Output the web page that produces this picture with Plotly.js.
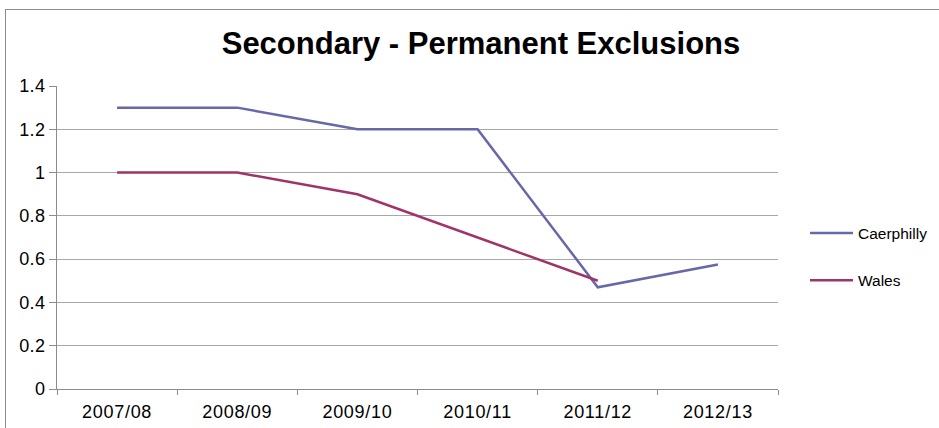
<!DOCTYPE html>
<html>
<head>
<meta charset="utf-8">
<script src="https://cdn.plot.ly/plotly-3.0.1.min.js"></script>
<style>
html, body { margin: 0; padding: 0; background: #fff; }
#wrap { position: relative; width: 939px; height: 428px; overflow: hidden; }
#chart { width: 939px; height: 428px; }
#frame { position: absolute; left: 5px; top: 9px; width: 1000px; height: 500px;
  border-left: 1px solid #8c8c8c; border-top: 1px solid #8c8c8c; pointer-events: none; }
.xtick text { letter-spacing: 0.7px; }
.ytick text { letter-spacing: 0.4px; }
</style>
</head>
<body>
<div id="wrap">
<div id="chart"></div>
<div id="frame"></div>
</div>
<script>
const categories = ["2007/08", "2008/09", "2009/10", "2010/11", "2011/12", "2012/13"];
const caerphilly = [1.3, 1.3, 1.2, 1.2, 0.47, 0.575];
const wales = [1.0, 1.0, 0.9, 0.7, 0.5, null];
const yTicks = [0, 0.2, 0.4, 0.6, 0.8, 1, 1.2, 1.4];
const yTickText = ["0", "0.2", "0.4", "0.6", "0.8", "1", "1.2", "1.4"];

const font = "'Liberation Sans', Arial, sans-serif";

const traces = [
  { x: categories, y: caerphilly, name: "Caerphilly", type: "scatter", mode: "lines",
    line: { color: "#6767a9", width: 2.5 }, legendgroup: "a", connectgaps: false },
  { x: categories, y: wales, name: "Wales", type: "scatter", mode: "lines",
    line: { color: "#9e3468", width: 2.5 }, legendgroup: "b", connectgaps: false }
];

const layout = {
  width: 939, height: 428,
  margin: { l: 57, r: 161, t: 86, b: 39, autoexpand: false },
  paper_bgcolor: "#fff", plot_bgcolor: "#fff",
  font: { family: font, color: "#000", size: 18 },
  title: { text: "<b>Secondary - Permanent Exclusions</b>",
    font: { family: font, size: 31, color: "#000" },
    x: (481 - 57) / 721, xref: "paper", xanchor: "center",
    y: 1 - 43 / 428, yref: "container", yanchor: "middle" },
  xaxis: {
    type: "category", range: [-0.5, 5.5], tickson: "boundaries",
    ticks: "outside", ticklen: 5, tickcolor: "#8c8c8c", tickwidth: 1,
    showline: true, linecolor: "#8c8c8c", linewidth: 1,
    showgrid: false, zeroline: false, ticklabelstandoff: 6,
    tickfont: { family: font, size: 18, color: "#000" }, fixedrange: true
  },
  yaxis: {
    range: [0, 1.4], tickvals: yTicks, ticktext: yTickText,
    ticks: "outside", ticklen: 7, tickcolor: "#8c8c8c", tickwidth: 1,
    showline: true, linecolor: "#8c8c8c", linewidth: 1,
    showgrid: true, gridcolor: "#a8a8a8", gridwidth: 1, zeroline: false,
    tickfont: { family: font, size: 18, color: "#000" }, fixedrange: true
  },
  showlegend: true,
  legend: {
    x: (805 - 57) / 721, xanchor: "left",
    y: (389 - 257) / 303, yanchor: "middle",
    font: { family: font, size: 15.5, color: "#000" },
    bgcolor: "rgba(0,0,0,0)", borderwidth: 0,
    traceorder: "grouped", tracegroupgap: 24, itemwidth: 43
  }
};

Plotly.newPlot("chart", traces, layout, { displayModeBar: false, staticPlot: true });
</script>
</body>
</html>
